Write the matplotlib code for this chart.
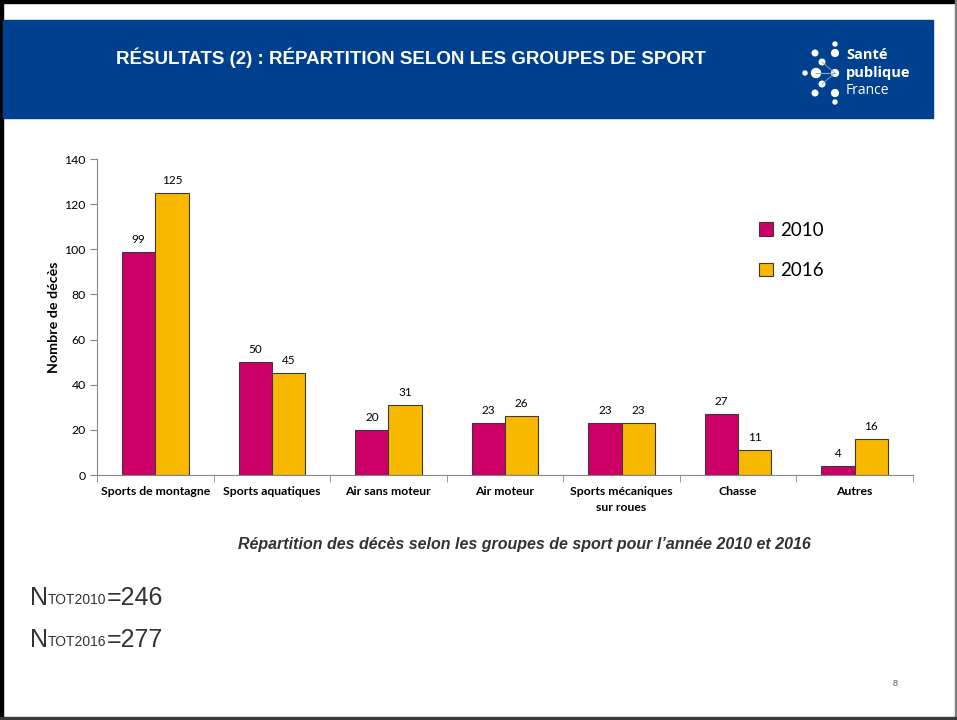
import numpy as np
import matplotlib
matplotlib.use("Agg")
from matplotlib import pyplot as plt
from matplotlib.patches import Rectangle, Circle

plt.rcParams.update({"font.family": "Lato", "font.size": 8})

# data
categories = ["Sports de montagne", "Sports aquatiques", "Air sans moteur", "Air moteur",
              "Sports mécaniques\nsur roues", "Chasse", "Autres"]
deces_2010 = [99, 50, 20, 23, 23, 27, 4]
deces_2016 = [125, 45, 31, 26, 23, 11, 16]
years = ["2010", "2016"]
totals = [246, 277]

col_2010 = "#CC0066"
col_2016 = "#F9B800"
blue = "#00418F"
axis_col = "#868686"

fig = plt.figure(figsize=(9.57, 7.2), dpi=100)

#  ------------------------------  slide background (pixel coords)  ------------------------------  #

bg = fig.add_axes([0, 0, 1, 1], zorder=0)
bg.set_xlim(0, 957)
bg.set_ylim(720, 0)
bg.axis("off")

# frame
bg.add_patch(Rectangle((0, 0), 957, 2.5, color="black"))
bg.add_patch(Rectangle((0, 0), 2.5, 720, color="black"))
bg.add_patch(Rectangle((954.5, 0), 2.5, 720, color="#7f7f7f"))
bg.add_patch(Rectangle((0, 716.5), 957, 3.5, color="#3a3a3a"))

# header band
bg.add_patch(Rectangle((2.5, 20), 930.5, 98, color=blue))
bg.text(411, 58, "RÉSULTATS (2) : RÉPARTITION SELON LES GROUPES DE SPORT",
        color="white", fontsize=13.5, fontweight="bold", family="Liberation Sans",
        ha="center", va="center")

# logo
dots = [(835, 44, 2.0), (815, 53, 2.8), (835, 53, 3.4), (822, 62, 2.8), (805, 73, 2.0),
        (816, 73, 4.5), (835, 73, 3.4), (822, 84, 2.8), (815, 93, 2.8), (835, 93, 3.4),
        (835, 102, 2.0)]
bg.plot([816, 835], [73, 73], color="#8aa6d6", lw=0.8)
bg.plot([822, 835, 822], [62, 73, 84], color="#8aa6d6", lw=0.6)
for x, y, r in dots:
    bg.add_patch(Circle((x, y), r, color="white"))
bg.text(846, 55, "Santé", color="white", fontsize=10.5, fontweight="bold",
        family="Open Sans", va="center")
bg.text(846, 73, "publique", color="white", fontsize=10.5, fontweight="bold",
        family="Open Sans", va="center")
bg.text(846, 90, "France", color="white", fontsize=10, family="Open Sans", va="center")

# caption
bg.text(524, 545, "Répartition des décès selon les groupes de sport pour l’année 2010 et 2016",
        color="#333333", fontsize=11.5, fontweight="bold", style="italic",
        family="Liberation Sans", ha="center", va="center")

# totals
for i, (yr, tot) in enumerate(zip(years, totals)):
    t1 = bg.text(30, 605 + 42 * i, "N", fontsize=18, color="#333333",
                 family="Liberation Sans", va="baseline")
    t2 = bg.annotate("TOT" + yr, xy=(1, 0), xycoords=t1, xytext=(0, 1.8),
                     textcoords="offset points", fontsize=10, color="#333333",
                     family="Liberation Sans", va="bottom")
    bg.annotate("=%d" % tot, xy=(1, 0), xycoords=t2, xytext=(0, -1.8),
                textcoords="offset points", fontsize=18, color="#333333",
                family="Liberation Sans", va="bottom")

bg.text(895, 684, "8", fontsize=6.5, color="#555555", family="Liberation Sans",
        ha="center", va="center")

#  ---------------------------------------  bar chart  ---------------------------------------  #

ax = fig.add_axes([97 / 957, 1 - 475 / 720, 816 / 957, 316 / 720], zorder=1)
ax.patch.set_alpha(0)

x = np.arange(len(categories))
w = 0.285
b1 = ax.bar(x - w / 2, deces_2010, w, color=col_2010, edgecolor="#3a3a3a", lw=0.8, label=years[0])
b2 = ax.bar(x + w / 2, deces_2016, w, color=col_2016, edgecolor="#3a3a3a", lw=0.8, label=years[1])
ax.bar_label(b1, padding=5, fontsize=8.5)
ax.bar_label(b2, padding=5, fontsize=8.5)

ax.set_xlim(-0.5, len(categories) - 0.5)
ax.set_ylim(0, 140)
ax.set_yticks(np.arange(0, 141, 20))
ax.set_xticks(x)
ax.set_xticklabels(categories, fontweight="bold", fontsize=8.8, linespacing=1.55)
ax.set_xticks(np.arange(-0.5, len(categories)), minor=True)
ax.tick_params(axis="x", which="major", length=0, pad=8)
ax.tick_params(axis="x", which="minor", length=5, color=axis_col)
ax.tick_params(axis="y", length=5, color=axis_col, labelsize=8.8, pad=3)

for s in ("top", "right"):
    ax.spines[s].set_visible(False)
for s in ("left", "bottom"):
    ax.spines[s].set_color(axis_col)

ax.set_ylabel("Nombre de décès", fontweight="bold", fontsize=10.3, labelpad=3)

ax.legend(loc="upper left", bbox_to_anchor=(0.79, 0.855), frameon=False, fontsize=13.5,
          handlelength=0.75, handleheight=0.75, labelspacing=1.25, handletextpad=0.4)

plt.savefig("out.png", dpi=100)
